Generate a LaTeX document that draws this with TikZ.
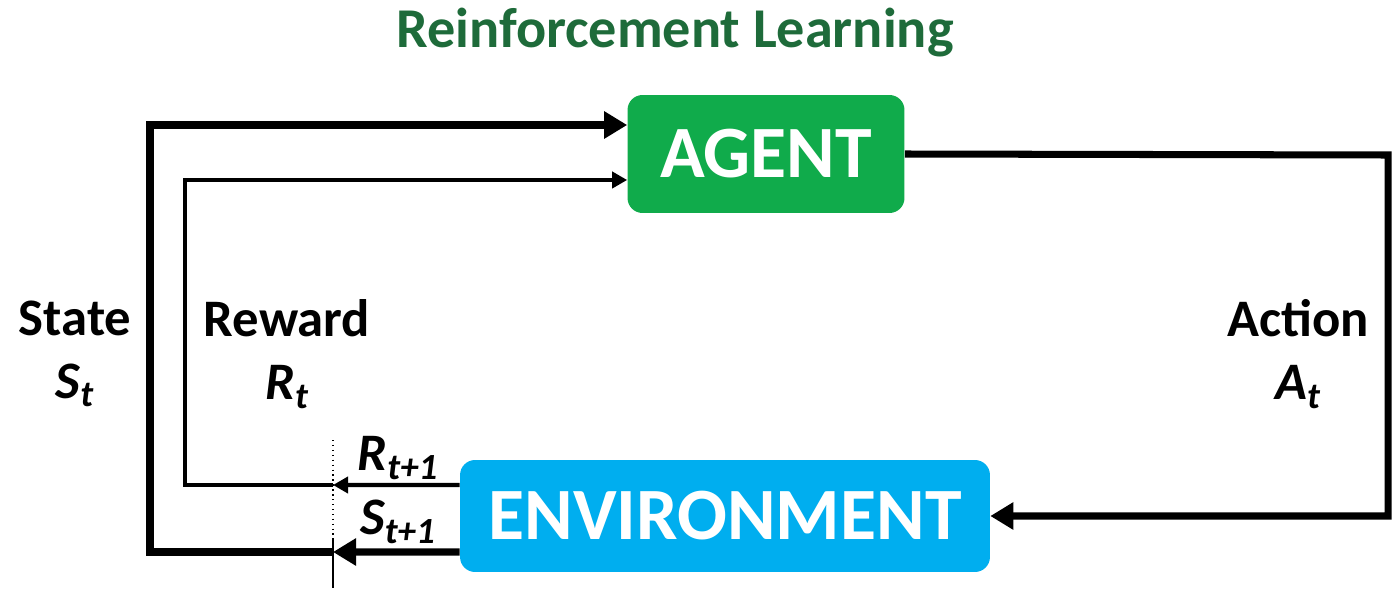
\documentclass[tikz,border=0pt]{standalone}
\usepackage{fontspec}
\setmainfont{Carlito}
\usetikzlibrary{arrows.meta}

\definecolor{titlegreen}{HTML}{1E6B3A}
\definecolor{agentgreen}{HTML}{10AB4B}
\definecolor{envblue}{HTML}{00AEEF}

\tikzstyle{box}=[rounded corners=0.3cm,text=white,font=\fontsize{42}{42}\selectfont\bfseries]
\tikzstyle{label}=[align=center,font=\fontsize{30}{36}\selectfont\bfseries]
\tikzstyle{heavy}=[line width=4pt]
\tikzstyle{light}=[line width=2.4pt]
\tikzstyle{bigtip}=[-{Triangle[length=0.46cm,width=0.52cm]}]
\tikzstyle{smalltip}=[-{Triangle[length=0.3cm,width=0.32cm]}]

\begin{document}
\begin{tikzpicture}[x=0.02cm,y=-0.02cm]
\useasboundingbox (0,0) rectangle (1395,588);
% Title

   \node (title) at (675,33) [text=titlegreen,font=\fontsize{32}{32}\selectfont\bfseries] {Reinforcement Learning};

% Agent and environment
   \node[box,fill=agentgreen,minimum width=5.54cm,minimum height=2.36cm] (agent) at (766,154) {AGENT};
   \node[box,fill=envblue,minimum width=10.6cm,minimum height=2.24cm] (env) at (725,516) {ENVIRONMENT};

   \coordinate (cuttop) at (333,440);
   \coordinate (cutmid) at (333,540);
   \coordinate (cutbot) at (333,588);
   \coordinate (rdot) at (333,485);
   \coordinate (sdot) at (333,552);
   \coordinate (rleft) at (185,485);
   \coordinate (sleft) at (150,552);
   \coordinate (aright) at (1388,155);

% Loop back to the agent
   \draw[heavy,bigtip] ([yshift=-0.72cm]env.west) -- (sdot);
   \draw[light,smalltip] ([yshift=0.62cm]env.west) -- (rdot);
   \draw[heavy,bigtip] (sdot) -- (sleft) |- ([yshift=0.58cm]agent.west);
   \draw[light,smalltip] (rdot) -- (rleft) |- ([yshift=-0.52cm]agent.west);
\draw[heavy,bigtip] (agent.east) -- (aright) |- (env.east);

   \draw[line width=0.8pt,dotted] (cuttop) -- (cutmid);
   \draw[line width=0.8pt] (cutmid) -- (cutbot);

% Labels
   \node[label] (state) at (75,354) {State\\\itshape S\textsubscript{t}};
   \node[label] (reward) at (287,354) {Reward\\\itshape R\textsubscript{t}};
   \node[label] (action) at (1298,354) {Action\\\itshape A\textsubscript{t}};
   \node[label] (rnext) at (398,458) {\itshape R\textsubscript{t+1}};
   \node[label] (snext) at (398,522) {\itshape S\textsubscript{t+1}};

\end{tikzpicture}
\end{document}
